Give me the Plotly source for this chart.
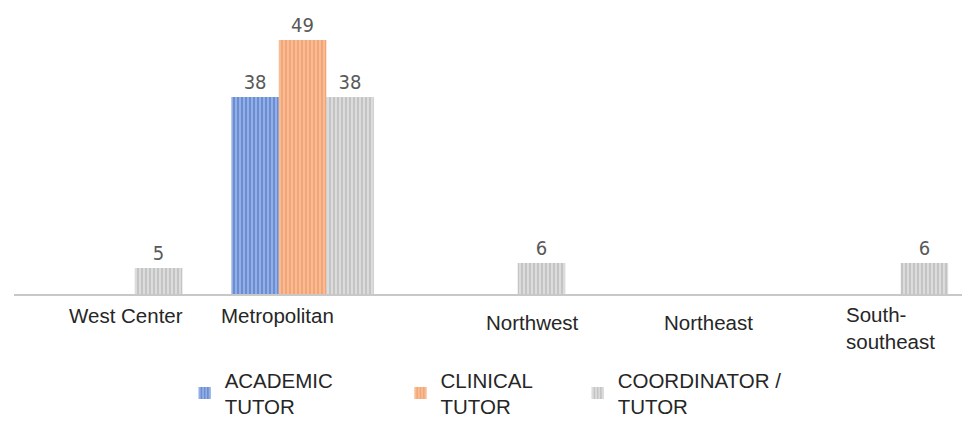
import plotly.graph_objects as go

categories = ["West Center", "Metropolitan", "Northwest", "Northeast", "South-southeast"]
category_labels = ["West Center", "Metropolitan", "Northwest", "Northeast", "South-<br>southeast"]
series_names = ["ACADEMIC<br>TUTOR", "CLINICAL<br>TUTOR", "COORDINATOR /<br>TUTOR"]
academic_tutor = [None, 38, None, None, None]
clinical_tutor = [None, 49, None, None, None]
coordinator_tutor = [5, 38, 6, None, 6]

series_values = [academic_tutor, clinical_tutor, coordinator_tutor]
bg_colors = ["#6a8ed3", "#f3a574", "#c4c4c4"]
fg_colors = ["#a7bdea", "#f9c7a6", "#e6e6e6"]
legend_pad = [11, 7, 0]  # non-breaking spaces to spread legend entries

fig = go.Figure()
for name, vals, bg, fg, pad in zip(series_names, series_values, bg_colors, fg_colors, legend_pad):
    first, rest = name.split("<br>", 1)
    fig.add_trace(go.Bar(
        x=categories, y=vals, name=first + "&nbsp;" * pad + "<br>" + rest,
        marker=dict(color=bg, line=dict(width=0),
                    pattern=dict(shape="|", bgcolor=bg, fgcolor=fg, size=4, solidity=0.35, fillmode="replace")),
        texttemplate="%{y}", textposition="outside", cliponaxis=False,
        textfont=dict(family="DejaVu Sans Condensed, Liberation Sans Narrow, Arial Narrow, sans-serif", size=20, color="#595959"),
    ))

# per-label placement (pixel shifts relative to category centre)
label_shift = [(15, -21, "center"), (-25, -21, "center"), (38, -28, "center"), (23, -28, "center"), (-33, -34, "left")]
annotations = []
for i, (lab, (dx, dy, anchor)) in enumerate(zip(category_labels, label_shift)):
    annotations.append(dict(
        x=i, xref="x", y=0, yref="paper", yanchor="middle", xanchor=anchor, align="left",
        xshift=dx, yshift=dy, text=lab, showarrow=False,
        font=dict(family="Liberation Sans, Arial, sans-serif", size=20.5, color="#262626"),
    ))

fig.update_layout(
    width=962, height=428,
    margin=dict(l=14, r=0, t=0, b=134),
    paper_bgcolor="white", plot_bgcolor="white",
    barmode="group", bargap=0.256, bargroupgap=0,
    showlegend=True,
    legend=dict(orientation="h", x=0.18, xanchor="left", y=-0.452, yanchor="bottom",
                traceorder="normal", itemclick=False,
                font=dict(family="Liberation Sans, Arial, sans-serif", size=20.5, color="#262626")),
    xaxis=dict(range=[-0.507, 4.444], showticklabels=False, ticks="", showgrid=False,
               showline=True, linecolor="#c8c8c8", linewidth=2, zeroline=False, fixedrange=True),
    yaxis=dict(range=[0, 56.7], visible=False, showgrid=False, zeroline=False, fixedrange=True),
    annotations=annotations,
)

fig.write_html("out.html", config={"displayModeBar": False},
               post_script="document.body.style.margin='0';document.body.style.overflow='hidden';")
